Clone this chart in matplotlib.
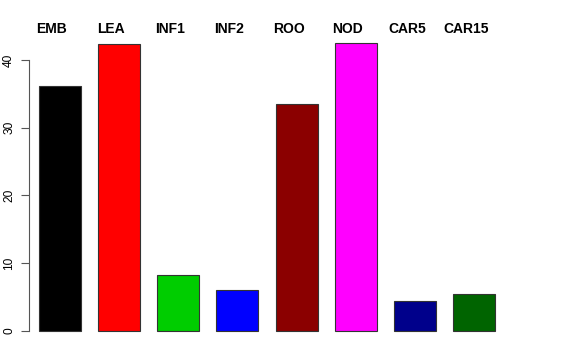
import matplotlib
matplotlib.use('Agg')
import matplotlib.pyplot as plt

# 막대 데이터
labels = ['EMB', 'LEA', 'INF1', 'INF2', 'ROO', 'NOD', 'CAR5', 'CAR15']
values = [36.2, 42.3, 8.3, 6.05, 33.5, 42.5, 4.35, 5.4]
colors = ['#000000', '#FF0000', '#00CD00', '#0000FF',
          '#8B0000', '#FF00FF', '#00008B', '#006400']
yticks = [0, 10, 20, 30, 40]

plt.rcParams['font.family'] = ['Liberation Sans', 'DejaVu Sans']

fig = plt.figure(figsize=(5.76, 3.6), dpi=100)
ax = fig.add_axes([28.7 / 576, 17.8 / 360, 493.7 / 576, 310.7 / 360])

# R barplot 스타일 배치
w = 0.85
x = [0.2 + 1.2 * i + w / 2 for i in range(len(values))]
ax.bar(x, values, width=w, color=colors, edgecolor='#333333', linewidth=0.8)

ax.set_xlim(0, 10)
ax.set_ylim(-1.7, 44.2)
for side in ['top', 'right', 'bottom']:
    ax.spines[side].set_visible(False)
ax.spines['left'].set_bounds(0, 40)
ax.spines['left'].set_color('#555555')
ax.set_xticks([])
ax.set_yticks(yticks)
ax.set_yticklabels([str(t) for t in yticks], rotation=90, va='center')
ax.tick_params(axis='y', length=5.8, width=0.8, color='#555555', labelsize=8.6, pad=4)

# 막대 위 제목
for xi, lab in zip(x, labels):
    ax.text(xi - 0.16, 44.56, lab, ha='center', va='center',
            fontsize=10, fontweight='bold', clip_on=False)

plt.savefig('out.png', dpi=100)
